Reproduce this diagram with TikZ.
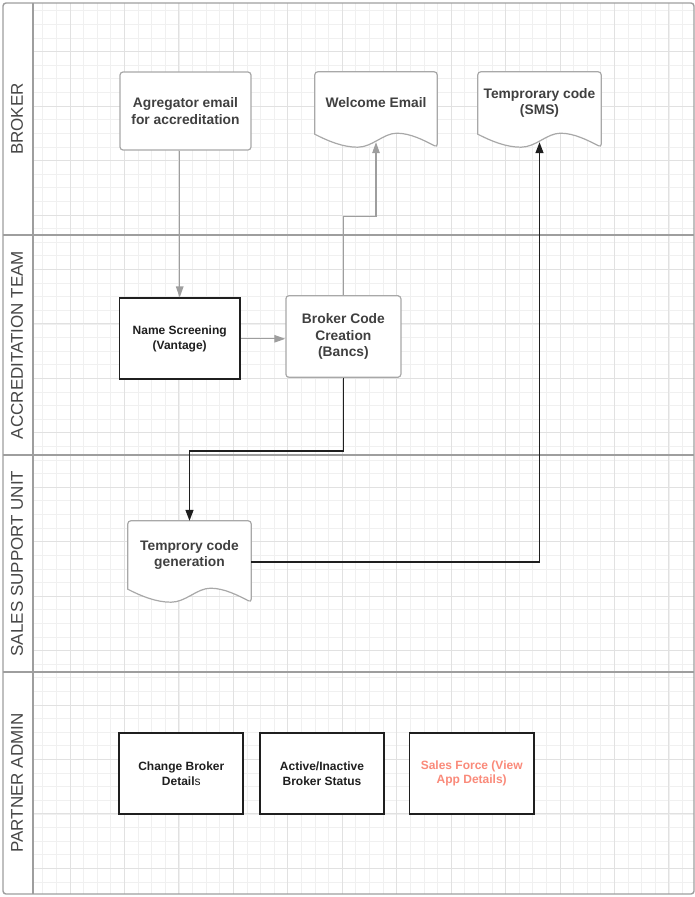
\documentclass[tikz,border=0pt]{standalone}
\usepackage{fontspec}
\setmainfont{Liberation Sans}
\usetikzlibrary{positioning,arrows.meta,calc,backgrounds}

\definecolor{lanegray}{HTML}{9E9E9E}
\definecolor{boxgray}{HTML}{A8A8A8}
\definecolor{textgray}{HTML}{404040}
\definecolor{gridminor}{HTML}{F0F0F0}
\definecolor{gridmajor}{HTML}{E1E1E1}
\definecolor{salmon}{HTML}{FA8A7A}

\tikzset{
  graybox/.style={draw=boxgray, line width=1.2pt, rounded corners=3pt, fill=white, align=center,
    font=\fontsize{13.8}{16.8}\selectfont\bfseries, text=textgray, inner sep=0pt},
  blackbox/.style={draw=black!88, line width=1.7pt, line join=miter, fill=white, align=center,
    font=\fontsize{12}{14.5}\selectfont\bfseries, text=black!88, inner sep=0pt},
  doctext/.style={align=center, font=\fontsize{13.8}{16.8}\selectfont\bfseries, text=textgray, inner sep=0pt},
  docline/.style={draw=boxgray, line width=1.2pt, fill=white},
  grayarrow/.style={draw=lanegray, line width=1.3pt, -{Triangle[length=11pt,width=7.5pt]}},
  blackarrow/.style={draw=black!88, line width=1.4pt, -{Triangle[length=11pt,width=8pt]}},
  laneline/.style={draw=lanegray, line width=1.4pt},
  lanelabel/.style={rotate=90, font=\fontsize{17}{20}\selectfont, text=black!72},
}

% document outline with a wavy bottom under a text node
\newcommand{\docoutline}[1]{%
  \draw[docline] (#1.south west) [rounded corners=3pt] |- (#1.north east) -- ($(#1.south east)+(0,13)$)
    [sharp corners]
    .. controls ($(#1.south west)!0.89!(#1.south east)+(0,6)$) and ($(#1.south west)!0.78!(#1.south east)+(0,-1)$)
    .. ($(#1.south west)!0.67!(#1.south east)+(0,-1)$)
    .. controls ($(#1.south west)!0.56!(#1.south east)+(0,-1)$) and ($(#1.south west)!0.47!(#1.south east)+(0,13)$)
    .. ($(#1.south west)!0.35!(#1.south east)+(0,13)$)
    .. controls ($(#1.south west)!0.23!(#1.south east)+(0,13)$) and ($(#1.south west)!0.11!(#1.south east)+(0,7)$)
    .. (#1.south west) -- cycle;}

\begin{document}
\begin{tikzpicture}[x=1pt,y=-1pt]
\useasboundingbox (0,0) rectangle (695,897);

% grid and swimlanes
\begin{scope}[on background layer]
  \foreach \i in {-2,...,45}
    \draw[gridminor, line width=0.8pt] ({70+13.6125*\i},3) -- ({70+13.6125*\i},894);
  \foreach \j in {-15,...,49}
    \draw[gridminor, line width=0.8pt] (33,{215+13.6125*\j}) -- (694,{215+13.6125*\j});
  \foreach \k in {0,...,11}
    \draw[gridmajor, line width=1pt] ({70+54.45*\k},3) -- ({70+54.45*\k},894);
  \foreach \k in {-3,...,12}
    \draw[gridmajor, line width=1pt] (33,{215+54.45*\k}) -- (694,{215+54.45*\k});
  \fill[white] (3,3) rectangle (33,894);
  \foreach \y in {235,455,672}
    \draw[laneline] (3,\y) -- (694,\y);
  \draw[laneline] (33,3) -- (33,894);
  \draw[laneline, rounded corners=3pt] (3,3) rectangle (694,894);
\end{scope}

% lane labels
\node[lanelabel] (lbroker) at (17,119) {BROKER};
\node[lanelabel] (laccr) at (17,345) {ACCREDITATION TEAM};
\node[lanelabel] (lsales) at (17,563.5) {SALES SUPPORT UNIT};
\node[lanelabel] (lpartner) at (17,783) {PARTNER ADMIN};

% broker lane
\node[graybox, minimum width=131pt, minimum height=78pt] (agg) at (185.5,111) {Agregator email\\for accreditation};
\node[doctext, minimum width=122pt, minimum height=62pt] (wel) at (376,103) {Welcome Email};
\node[doctext, minimum width=123pt, minimum height=62pt] (sms) at (539.5,103) {Temprorary code\\(SMS)};

% accreditation team lane
\node[blackbox, minimum width=120.5pt, minimum height=81pt] (scr) at (179.7,338.8) {Name Screening\\(Vantage)};
\node[graybox, minimum width=115pt, minimum height=81.5pt] (bcc) at (343.4,336.5) {Broker Code\\Creation\\(Bancs)};

% sales support unit lane
\node[doctext, minimum width=123pt, minimum height=68pt] (tgen) at (189.5,555) {Temprory code\\generation};

% partner admin lane
\node[blackbox, minimum width=124pt, minimum height=81.5pt] (chg) at (181.3,773.5) {Change Broker\\Detail{\mdseries s}};
\node[blackbox, minimum width=124pt, minimum height=81.5pt] (act) at (322,773.5) {Active/Inactive\\Broker Status};
\node[blackbox, minimum width=124.5pt, minimum height=81.5pt, text=salmon] (sfv) at (471.7,773.5) {Sales Force (View\\App Details)};

\begin{scope}[on background layer]
  \docoutline{wel}
  \docoutline{sms}
  \docoutline{tgen}
\end{scope}

% connectors
\coordinate (welin) at ($(wel.south)+(0,8)$);
\coordinate (smsin) at ($(sms.south)+(0,8)$);
\coordinate (tgenout) at ($(tgen.east)+(0,7)$);
\draw[grayarrow] (agg.south -| scr.north) -- (scr.north);
\draw[grayarrow] (scr.east) -- (scr.east -| bcc.west);
\draw[grayarrow] (bcc.north) -- ++(0,-79) -| (welin);
\draw[blackarrow] (bcc.south) -- ++(0,73) -| (tgen.north);
\draw[blackarrow] (tgenout) -| (smsin);
\end{tikzpicture}
\end{document}
